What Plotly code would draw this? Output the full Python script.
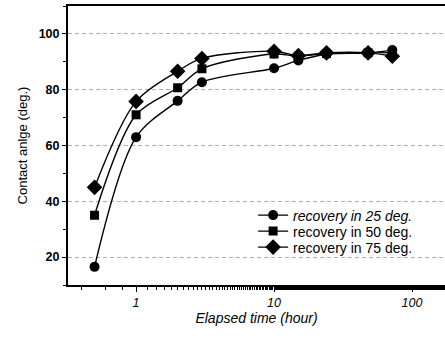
import plotly.graph_objects as go
import math

time_h = [0.5, 1, 2, 3, 10, 15, 24, 48, 72]
angle_25 = [16.5, 63, 76, 82.7, 87.7, 90.5, 92.7, 93.2, 94.2]
angle_50 = [35, 71, 80.7, 87.5, 92.8, 92, 93, 93.2, 93.3]
angle_75 = [45, 75.8, 86.6, 91.2, 93.8, 92.2, 93.2, 93.2, 92]

series = [
    ("<i>recovery in 25 deg.</i>", angle_25, "circle", 10, "legend"),
    ("recovery in 50 deg.", angle_50, "square", 9, "legend2"),
    ("recovery in 75 deg.", angle_75, "diamond", 12, "legend3"),
]

fig = go.Figure()
for name, vals, sym, sz, lg in series:
    fig.add_trace(go.Scatter(
        x=time_h, y=vals, name=name, mode="lines+markers", legend=lg,
        line=dict(color="black", width=1.4, shape="spline", smoothing=0.9),
        marker=dict(symbol=sym, size=sz, color="black"),
    ))

font_fam = "Liberation Sans, Arial, sans-serif"
leg_common = dict(x=0.491, xanchor="left", yanchor="middle",
                  bgcolor="rgba(0,0,0,0)", font=dict(size=14, family=font_fam),
                  itemwidth=30)
# plot area: y from 6 to 285 px (279 px tall)
def ypaper(px):
    return (285 - px) / 279

fig.update_layout(
    width=445, height=338,
    margin=dict(l=68, r=0, t=6, b=53, autoexpand=False),
    paper_bgcolor="white", plot_bgcolor="white",
    font=dict(family=font_fam, color="black", size=12),
    showlegend=True,
    legend=dict(y=ypaper(215.5), **leg_common),
    legend2=dict(y=ypaper(231.5), **leg_common),
    legend3=dict(y=ypaper(247.5), **leg_common),
    xaxis=dict(
        type="log", range=[math.log10(0.321), 2.239], automargin=False,
        tickvals=[1, 10, 100], ticktext=["<i>1</i>", "<i>10</i>", "<i>100</i>"],
        ticks="outside", ticklen=5, tickwidth=1.2, tickcolor="black",
        minor=dict(ticks="outside", ticklen=3, tickcolor="black", showgrid=False),
        showline=True, linecolor="black", linewidth=2, mirror=True,
        showgrid=False, zeroline=False,
        tickfont=dict(size=12.5, family=font_fam),
        title=dict(text="<i>Elapsed time (hour)</i>", font=dict(size=14), standoff=4),
    ),
    yaxis=dict(
        range=[10, 110], automargin=False,
        tickvals=[20, 40, 60, 80, 100],
        ticktext=["<b>20</b>", "<b>40</b>", "<b>60</b>", "<b>80</b>", "<b>100</b>"],
        ticks="outside", ticklen=4, tickwidth=1.2, tickcolor="black",
        minor=dict(dtick=10, ticks="outside", ticklen=3, tickcolor="black", showgrid=False),
        showline=True, linecolor="black", linewidth=2, mirror=False,
        showgrid=True, gridcolor="#b0b0b0", gridwidth=0.8, griddash="4px,3px",
        zeroline=False,
        tickfont=dict(size=12.5, family=font_fam),
        title=dict(text="Contact anlge (deg.)", font=dict(size=13), standoff=8),
    ),
)

fig.write_html("out.html", config={"displayModeBar": False},
               post_script="document.body.style.margin='0';document.body.style.overflow='hidden';")
